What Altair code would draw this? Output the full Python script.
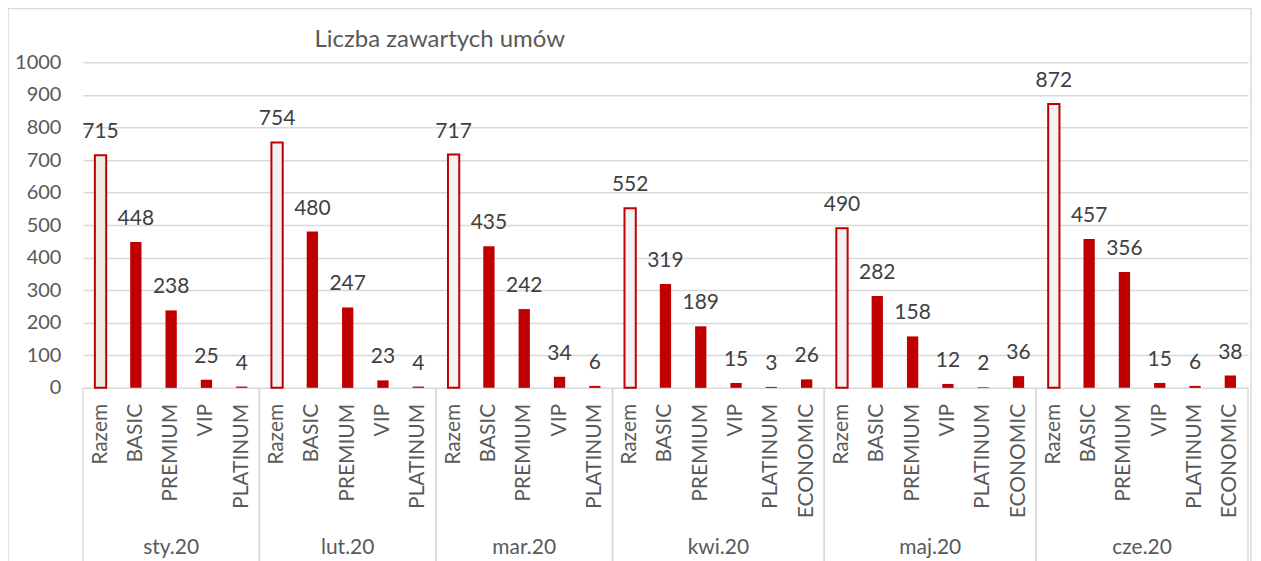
import altair as alt
import pandas as pd

months = ["sty.20", "lut.20", "mar.20", "kwi.20", "maj.20", "cze.20"]
cats_5 = ["Razem", "BASIC", "PREMIUM", "VIP", "PLATINUM"]
cats_6 = ["Razem", "BASIC", "PREMIUM", "VIP", "PLATINUM", "ECONOMIC"]
month_cats = [cats_5, cats_5, cats_5, cats_6, cats_6, cats_6]

sty = [715, 448, 238, 25, 4]
lut = [754, 480, 247, 23, 4]
mar = [717, 435, 242, 34, 6]
kwi = [552, 319, 189, 15, 3, 26]
maj = [490, 282, 158, 12, 2, 36]
cze = [872, 457, 356, 15, 6, 38]
month_vals = [sty, lut, mar, kwi, maj, cze]

title_text = "Liczba zawartych umów"

rows, groups = [], []
i = 0
for m, cats, vals in zip(months, month_cats, month_vals):
    start = i
    for c, v in zip(cats, vals):
        rows.append({"idx": i, "month": m, "cat": c, "value": v})
        i += 1
    groups.append({"month": m, "start": start - 0.5, "end": i - 0.5,
                   "center": (start + i - 1) / 2})
df = pd.DataFrame(rows)
gdf = pd.DataFrame(groups)
n = len(df)

W, H = 1167, 326
FONT = "Lato"
TXT = "#595959"
RED = "#c00000"
GRID = "#d9d9d9"

xs = alt.Scale(domain=[-0.5, n - 0.5], nice=False, zero=False)
ys = alt.Scale(domain=[0, 1000], nice=False)

base = alt.Chart(df)

yaxis = alt.Axis(values=list(range(0, 1001, 100)), format="d", grid=True,
                 gridColor=GRID, gridWidth=1.5, domain=False,
                 ticks=False, labelPadding=22, labelFont=FONT,
                 labelFontSize=20, labelColor=TXT)

bar_base = base.transform_calculate(
    lo="datum.idx - 0.16", hi="datum.idx + 0.16", zero="0"
)
bars_razem = bar_base.transform_filter(alt.datum.cat == "Razem").mark_bar(
    stroke=RED, strokeWidth=2).encode(
    x=alt.X("lo:Q", scale=xs, axis=None),
    x2="hi:Q",
    y=alt.Y("value:Q", scale=ys, title=None, axis=yaxis),
    y2="zero:Q",
    fill=alt.condition(alt.datum.month == "sty.20", alt.value("#eeece1"),
                       alt.value("#f2f2f2")),
)
bars_other = bar_base.transform_filter(alt.datum.cat != "Razem").mark_bar(
    fill=RED).encode(
    x=alt.X("lo:Q", scale=xs, axis=None),
    x2="hi:Q",
    y=alt.Y("value:Q", scale=ys, title=None, axis=yaxis),
    y2="zero:Q",
)

labels = base.mark_text(baseline="alphabetic", dy=-17, font=FONT,
                        fontSize=21, color="#404040").encode(
    x=alt.X("idx:Q", scale=xs, axis=None),
    y=alt.Y("value:Q", scale=ys, title=None, axis=yaxis),
    text="value:Q",
)

cat_labels = base.mark_text(angle=270, align="right", baseline="middle",
                            font=FONT, fontSize=21, color=TXT).encode(
    x=alt.X("idx:Q", scale=xs, axis=None),
    y=alt.value(H + 16),
    text="cat:N",
)

gbase = alt.Chart(gdf)
month_labels = gbase.mark_text(baseline="middle", font=FONT, fontSize=21,
                               color=TXT).encode(
    x=alt.X("center:Q", scale=xs, axis=None),
    y=alt.value(H + 160),
    text="month:N",
)

seps = gbase.transform_fold(["start", "end"], as_=["k", "pos"]).mark_rule(
    color=GRID, strokeWidth=1.5).encode(
    x=alt.X("pos:Q", scale=xs, axis=None),
    y=alt.value(H),
    y2=alt.value(H + 300),
)

tdf = pd.DataFrame({"t": [title_text]})

border = alt.Chart(tdf).mark_rect(
    fill="white", fillOpacity=0, stroke=GRID, strokeWidth=1.5).encode(
    x=alt.value(-75), x2=alt.value(W + 3),
    y=alt.value(-54), y2=alt.value(H + 400),
    detail="t:N",
)

title = alt.Chart(tdf).mark_text(
    align="left", baseline="middle", font=FONT, fontSize=24, color=TXT).encode(
    x=alt.value(232), y=alt.value(-22), text="t:N",
)

chart = alt.layer(border, seps, bars_razem, bars_other, labels, cat_labels,
                  month_labels, title).properties(
    width=W, height=H,
    autosize=alt.AutoSizeParams(type="none"),
    padding={"left": 75, "top": 54, "right": 5, "bottom": 190},
).configure_view(stroke=None)

chart.save("out.html", embed_options={"renderer": "svg", "actions": False})
